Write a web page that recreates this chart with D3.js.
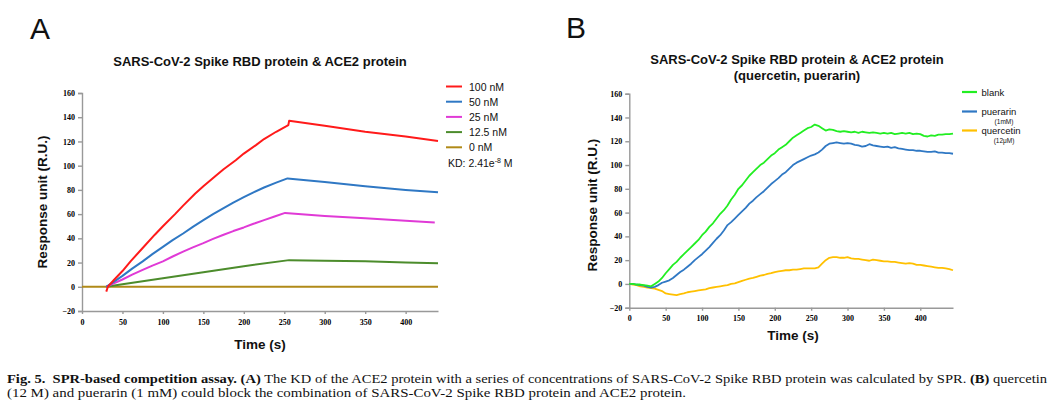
<!DOCTYPE html>
<html>
<head>
<meta charset="utf-8">
<script src="https://cdn.jsdelivr.net/npm/d3@7"></script>
<style>
  body { margin: 0; background: #fff; }
  svg { display: block; }
  .tick text { font-family: "Liberation Serif", serif; font-weight: bold; font-size: 8px; fill: #000; }
  .domain, .tick line { stroke: #999; stroke-width: 1.4; }
</style>
</head>
<body>
<script>
//panel A data: time (s) and response (R.U.) per concentration
var timeA100 = [30, 32, 40, 50, 60, 75, 90, 100, 115, 125, 140, 150, 165, 175, 190, 200, 215, 225, 240, 255, 256, 300, 350, 400, 440];
var valsA100 = [-4, 0, 6, 13, 21, 32, 43, 50, 60, 67, 77, 83, 91.5, 97, 104.5, 110, 117, 122, 128, 133.5, 137, 133, 128, 124, 120.3];
var timeA50 = [30, 40, 50, 62, 75, 87, 100, 112, 125, 137, 150, 162, 175, 187, 200, 212, 225, 240, 254, 300, 350, 400, 440];
var valsA50 = [0, 4.5, 9, 15, 21, 27, 33, 38.5, 44, 49.5, 55, 60, 65, 69.5, 74, 78, 82, 86, 89.5, 86.5, 83, 80, 78];
var timeA25 = [30, 40, 50, 62, 75, 87, 100, 112, 125, 137, 150, 162, 175, 187, 200, 212, 225, 238, 251, 300, 350, 400, 436];
var valsA25 = [0, 3, 6, 10, 14, 17.5, 21, 25, 29, 32.5, 36, 39.5, 43, 46, 49, 52, 55, 58, 61, 58.5, 56.5, 54.5, 53];
var timeA12 = [30, 50, 100, 150, 200, 256, 300, 350, 400, 440];
var valsA12 = [0, 2, 7, 12, 17, 22, 21.5, 21, 20, 19.5];
var timeA0 = [0, 440];
var valsA0 = [0, 0];
var legendA = ["100 nM", "50 nM", "25 nM", "12.5 nM", "0 nM"];
var colorsA = ["#ff1a1a", "#2f78c4", "#e03ad6", "#4c8c2c", "#b08a18"];

//panel B data: sampled every 5 s
var timeB = d3.range(0, 446, 5);
var valsBlank = [0, 0, -0.5, -0.5, -1, -1.5, -2, 0, 2, 5, 9, 12.5, 16, 18.5, 22, 25, 28, 31, 34, 37,
  41, 44, 48, 51, 55, 59, 62, 66, 71, 75, 80, 83, 87, 91, 94, 97, 100, 102, 105, 108,
  110, 113, 115, 117, 120, 123, 125, 127, 129, 131, 132, 134, 133, 131, 129, 130, 129.5, 128.5, 128, 128.5,
  128, 127.5, 128, 127, 128, 127.5, 127, 127.5, 127, 126.5, 127, 126.5, 127, 126, 126.5, 127, 126.5, 127, 126, 126.5,
  126, 124.5, 124, 125, 124.5, 125.5, 125.5, 126, 126, 126.5];
var valsPuerarin = [0, 0, -0.5, -1, -1.5, -2.5, -3, -2.5, -1, 1, 2, 3, 5, 7.5, 10, 12, 14.5, 17, 20, 22.5,
  25, 28, 31, 34.5, 38, 41, 45, 49.5, 52, 55, 58, 61, 64, 67.5, 70, 73, 75.5, 78, 81, 84,
  86.5, 89, 92, 94, 97, 100, 102, 103.5, 105, 106.5, 108, 109, 110.5, 113, 116, 118, 118.5, 119, 118.5, 118,
  118.5, 118, 117, 116.5, 115.5, 116, 117.5, 116.5, 116, 115.5, 115, 115.5, 114.5, 115, 114, 113.5, 113, 112.5, 112.5, 112,
  112, 111.5, 111, 111, 111.5, 110.5, 110.5, 110, 110, 109.5];
var valsQuercetin = [0, -0.5, -1, -2, -2.5, -3, -3.5, -4, -5, -6, -8, -8.5, -9, -9.5, -8.5, -8, -7, -6.5, -6, -5.5,
  -5, -4.5, -3.5, -3, -2.5, -2, -1.5, -1, 0, 0.5, 1.5, 2.5, 3.5, 4.5, 5, 6, 7, 7.5, 8.5, 9,
  10, 10.5, 11, 11.5, 11.5, 12, 12, 12.5, 13, 13, 13, 13, 14, 17, 20, 22, 22.5, 22.5, 22, 22,
  22.5, 21.5, 21, 21, 20.5, 20, 19.5, 20.5, 20, 19.5, 19, 19, 18.5, 18.5, 18, 17.5, 17, 17.5, 17, 16,
  16, 15.5, 15, 14.5, 14, 13.5, 13.5, 13, 12.5, 11.5];
var legendB = ["blank", "puerarin", "quercetin"];
var legendBSub = ["", "(1mM)", "(12\u03bcM)"];
var colorsB = ["#22ee22", "#2f78c4", "#ffc000"];

//shared tick values
var yTicks = [-20, 0, 20, 40, 60, 80, 100, 120, 140, 160];
var xTicks = [0, 50, 100, 150, 200, 250, 300, 350, 400];

var width = 1058,
    height = 406;

var svg = d3.select("body")
    .append("svg")
    .attr("width", width)
    .attr("height", height);

//draw axes for one panel, returns the scales
function drawAxes(x0, x1, xMax, yTop, yBottom){
    var x = d3.scaleLinear().domain([0, xMax]).range([x0, x1]);
    var y = d3.scaleLinear().domain([-20, 160]).range([yBottom, yTop]);

    svg.append("g")
        .attr("transform", "translate(" + x0 + ",0)")
        .call(d3.axisLeft(y).tickValues(yTicks).tickSize(4).tickPadding(3).tickFormat(d3.format("d")));

    svg.append("g")
        .attr("transform", "translate(0," + yBottom + ")")
        .call(d3.axisBottom(x).tickValues(xTicks).tickSize(3).tickPadding(5).tickSizeOuter(0));

    return {x: x, y: y};
}

function drawLine(sc, times, vals, color, width){
    var line = d3.line()
        .x(function(d){ return sc.x(d[0]); })
        .y(function(d){ return sc.y(d[1]); });
    svg.append("path")
        .datum(d3.zip(times, vals))
        .attr("fill", "none")
        .attr("stroke", color)
        .attr("stroke-width", width)
        .attr("stroke-linejoin", "round")
        .attr("d", line);
}

function addText(x, y, str, size, weight, anchor, rotate){
    var t = svg.append("text")
        .attr("x", x)
        .attr("y", y)
        .attr("font-family", "'Liberation Sans', Arial, sans-serif")
        .attr("font-size", size)
        .attr("font-weight", weight)
        .attr("text-anchor", anchor)
        .attr("fill", "#111")
        .text(str);
    if (rotate) t.attr("transform", "rotate(-90," + x + "," + y + ")");
    return t;
}

//---------------- panel A ----------------
var scA = drawAxes(82, 438, 440, 93, 311);
addText(30, 39, "A", 30, "normal", "start");
addText(260, 66, "SARS-CoV-2 Spike RBD protein & ACE2 protein", 13, "bold", "middle");
addText(47, 202, "Response unit (R.U.)", 13.5, "bold", "middle", true);
addText(260, 349, "Time (s)", 13.5, "bold", "middle");

drawLine(scA, timeA0, valsA0, colorsA[4], 2);
drawLine(scA, timeA12, valsA12, colorsA[3], 2);
drawLine(scA, timeA25, valsA25, colorsA[2], 2);
drawLine(scA, timeA50, valsA50, colorsA[1], 2);
drawLine(scA, timeA100, valsA100, colorsA[0], 2);

//legend A
legendA.forEach(function(name, i){
    var ly = 86.5 + i * 15.2;
    svg.append("line")
        .attr("x1", 446).attr("x2", 462)
        .attr("y1", ly).attr("y2", ly)
        .attr("stroke", colorsA[i])
        .attr("stroke-width", 2);
    addText(469, ly + 4, name, 10.5, "normal", "start");
});
var kd = addText(448, 166.5, "KD: 2.41e", 10.5, "normal", "start");
kd.append("tspan").attr("font-size", 7).attr("dy", -4).text("-8");
kd.append("tspan").attr("dy", 4).text(" M");

//---------------- panel B ----------------
var scB = drawAxes(629.3, 953, 445, 93.7, 307.7);
addText(566, 38, "B", 30, "normal", "start");
addText(797, 64, "SARS-CoV-2 Spike RBD protein & ACE2 protein", 13, "bold", "middle");
addText(797, 80, "(quercetin, puerarin)", 13, "bold", "middle");
addText(597, 205, "Response unit (R.U.)", 13.5, "bold", "middle", true);
addText(793, 340, "Time (s)", 13.5, "bold", "middle");

drawLine(scB, timeB, valsQuercetin, colorsB[2], 1.8);
drawLine(scB, timeB, valsPuerarin, colorsB[1], 1.8);
drawLine(scB, timeB, valsBlank, colorsB[0], 1.8);

//legend B
var legendBY = [92, 111.5, 130.5];
legendB.forEach(function(name, i){
    var ly = legendBY[i];
    svg.append("line")
        .attr("x1", 962).attr("x2", 977)
        .attr("y1", ly).attr("y2", ly)
        .attr("stroke", colorsB[i])
        .attr("stroke-width", 2.2);
    addText(981.5, ly + 3.5, name, 9.5, "normal", "start");
    if (legendBSub[i]) addText(1004, ly + 12.5, legendBSub[i], 6.5, "normal", "middle");
});

//---------------- caption ----------------
function caption(y, parts, len){
    var t = svg.append("text")
        .attr("x", 7)
        .attr("y", y)
        .attr("font-family", "'Liberation Serif', serif")
        .attr("font-size", 11.5)
        .attr("fill", "#111")
        .attr("textLength", len)
        .attr("lengthAdjust", "spacingAndGlyphs");
    parts.forEach(function(p){
        t.append("tspan")
            .attr("font-weight", p[1] ? "bold" : "normal")
            .text(p[0]);
    });
}
caption(382.5, [
    ["Fig. 5.\u00a0 SPR-based competition assay. (A)", true],
    [" The KD of the ACE2 protein with a series of concentrations of SARS-CoV-2 Spike RBD protein was calculated by SPR. ", false],
    ["(B)", true],
    [" quercetin", false]
], 1040);
caption(396.5, [
    ["(12 M) and puerarin (1 mM) could block the combination of SARS-CoV-2 Spike RBD protein and ACE2 protein.", false]
], 679);
</script>
</body>
</html>
